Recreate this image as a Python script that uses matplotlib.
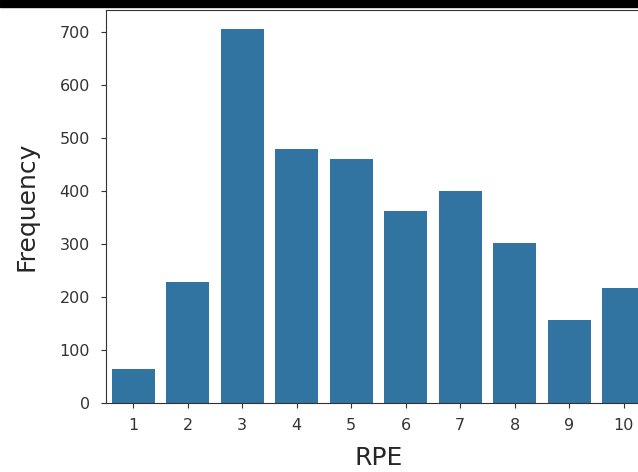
import matplotlib
matplotlib.use("Agg")
import matplotlib.pyplot as plt
from matplotlib.patches import Rectangle

# RPE counts
rpe = ["1", "2", "3", "4", "5", "6", "7", "8", "9", "10"]
counts = [65, 229, 706, 479, 460, 362, 400, 302, 156, 217]

fig = plt.figure(figsize=(6.38, 4.72), dpi=100)
# axes runs past the right edge, like the cropped original
ax = fig.add_axes([106 / 638, 69 / 472, 545 / 638, 393 / 472])

ax.bar(range(len(rpe)), counts, width=0.78, color="#3274a1")
ax.set_xlim(-0.5, len(rpe) - 0.5)
ax.set_xticks(range(len(rpe)))
ax.set_xticklabels(rpe)
ax.set_yticks([0, 100, 200, 300, 400, 500, 600, 700])
ax.tick_params(labelsize=11.5, colors="#333333", labelcolor="#333333")
ax.tick_params(axis="y", pad=8)
ax.tick_params(axis="x", pad=7)
for s in ax.spines.values():
    s.set_color("#333333")

ax.set_xlabel("RPE", fontsize=18, color="#262626", labelpad=10)
ax.set_ylabel("Frequency", fontsize=18, color="#262626", labelpad=15)

# dark band along the top of the crop
fig.add_artist(Rectangle((0, 1 - 7 / 472), 1, 7 / 472,
                         transform=fig.transFigure, color="black"))

fig.savefig("out.png", dpi=100)
